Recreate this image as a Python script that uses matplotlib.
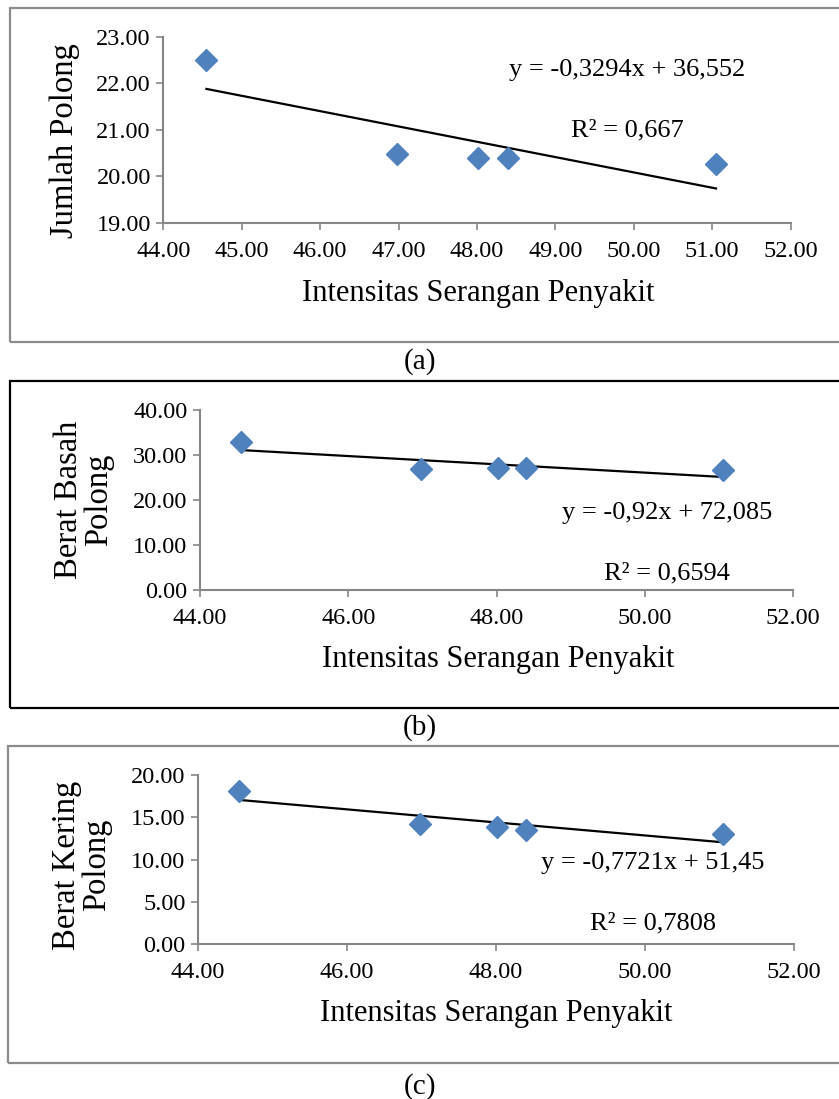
import matplotlib
matplotlib.use("Agg")
import matplotlib.pyplot as plt
from matplotlib.patches import Rectangle
import numpy as np

plt.rcParams['font.family'] = ['Liberation Serif', 'DejaVu Serif']

# ---- data ----
x_intensity = [44.55, 46.98, 48.02, 48.40, 51.05]
y_jumlah = [22.50, 20.47, 20.40, 20.40, 20.27]
y_basah = [33.0, 27.0, 27.1, 27.1, 26.7]
y_kering = [18.1, 14.2, 13.8, 13.5, 13.0]

slopes = [-0.3294, -0.92, -0.7721]
intercepts = [36.552, 72.085, 51.45]
eq_texts = ["y = -0,3294x + 36,552", "y = -0,92x + 72,085", "y = -0,7721x + 51,45"]
r2_texts = ["R² = 0,667", "R² = 0,6594", "R² = 0,7808"]
ylabels = ["Jumlah Polong", "Berat Basah\nPolong", "Berat Kering\nPolong"]
xlabel = "Intensitas Serangan Penyakit"
panel_labels = ["(a)", "(b)", "(c)"]

xticks_a = [44, 45, 46, 47, 48, 49, 50, 51, 52]
xticks_bc = [44, 46, 48, 50, 52]
yticks_a = [19, 20, 21, 22, 23]
yticks_b = [0, 10, 20, 30, 40]
yticks_c = [0, 5, 10, 15, 20]

W, H = 839, 1099
fig = plt.figure(figsize=(W / 100, H / 100), dpi=100)

def fx(px):
    return px / W

def fy(py):
    return 1 - py / H

# panel borders (pixel coords: left, top, bottom, colour)
borders = [(10, 8, 342, '#8c8c8c'), (10, 381, 708, '#000000'), (8, 746, 1063, '#8c8c8c')]
for left, top, bottom, col in borders:
    fig.patches.append(Rectangle((fx(left), fy(bottom)), fx(860 - left), (bottom - top) / H,
                                 transform=fig.transFigure, fill=False,
                                 edgecolor=col, linewidth=1.6, zorder=0))

# axes positions in pixels: left, right, top, bottom
axpos = [(163.3, 790.5, 36.7, 222.7), (200, 793, 410, 590), (198, 794, 775, 944)]
ys = [y_jumlah, y_basah, y_kering]
xticks_all = [xticks_a, xticks_bc, xticks_bc]
yticks_all = [yticks_a, yticks_b, yticks_c]
eq_pos = [(627, 70), (667, 513), (653, 863)]
r2_pos = [(627, 130), (667, 573), (653, 923)]
xlabel_pos = [(478, 293), (498, 660), (496, 1013)]
ylabel_pos = [(65, 141), (84, 500), (82, 865)]
panel_pos = [(420, 362), (420, 728), (420, 1087)]

spine_col = '#868686'
for i in range(3):
    l, r, t, b = axpos[i]
    ax = fig.add_axes([fx(l), fy(b), (r - l) / W, (b - t) / H])
    ax.set_xlim(xticks_all[i][0], xticks_all[i][-1])
    ax.set_ylim(yticks_all[i][0], yticks_all[i][-1])
    ax.set_xticks(xticks_all[i])
    ax.set_yticks(yticks_all[i])
    ax.set_xticklabels([f"{v:.2f}" for v in xticks_all[i]])
    ax.set_yticklabels([f"{v:.2f}" for v in yticks_all[i]])
    for s in ['top', 'right']:
        ax.spines[s].set_visible(False)
    for s in ['left', 'bottom']:
        ax.spines[s].set_color(spine_col)
        ax.spines[s].set_linewidth(1.5)
    ax.tick_params(axis='both', direction='out', length=5, width=1.2, color=spine_col,
                   labelsize=17.5, labelcolor='black')
    ax.tick_params(axis='x', pad=8)
    ax.tick_params(axis='y', pad=4)
    ax.patch.set_alpha(0)
    for lab in ax.get_xticklabels() + ax.get_yticklabels():
        lab.set_clip_on(False)

    xs = np.array(x_intensity)
    xline = np.array([xs.min(), xs.max()])
    ax.plot(xline, slopes[i] * xline + intercepts[i], color='black', linewidth=1.6,
            zorder=2, clip_on=False)
    ax.plot(xs, ys[i], linestyle='none', marker='D', markersize=11,
            markerfacecolor='#4F81BD', markeredgecolor='#4F81BD', zorder=3, clip_on=False)

    fig.text(fx(eq_pos[i][0]), fy(eq_pos[i][1]), eq_texts[i], ha='center', va='center',
             fontsize=19)
    fig.text(fx(r2_pos[i][0]), fy(r2_pos[i][1]), r2_texts[i], ha='center', va='center',
             fontsize=19)
    fig.text(fx(xlabel_pos[i][0]), fy(xlabel_pos[i][1]), xlabel, ha='center', va='center',
             fontsize=22)
    fig.text(fx(ylabel_pos[i][0]), fy(ylabel_pos[i][1]), ylabels[i], ha='center', va='center',
             fontsize=23.5, rotation=90, linespacing=1.0)
    fig.text(fx(panel_pos[i][0]), fy(panel_pos[i][1]), panel_labels[i], ha='center',
             va='center', fontsize=21)

fig.savefig("out.png", dpi=100)
